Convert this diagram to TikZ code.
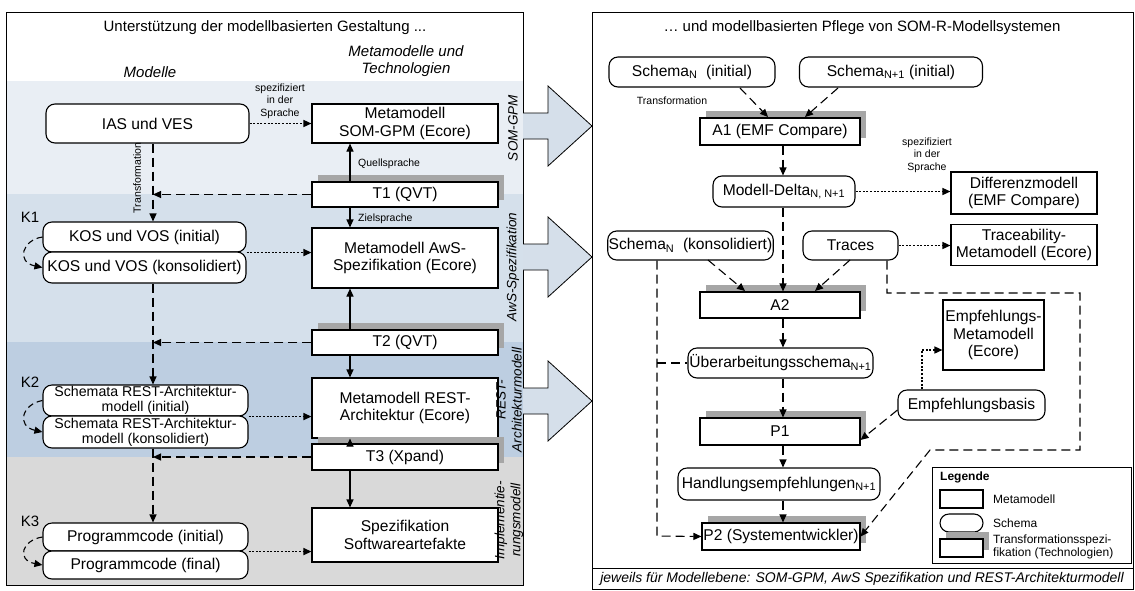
\documentclass[tikz,border=0pt]{standalone}
\usepackage{fontspec}
\setmainfont{Liberation Sans}
\usetikzlibrary{arrows.meta}
\definecolor{bandA}{HTML}{E9EEF4}
\definecolor{bandB}{HTML}{D5E0EB}
\definecolor{bandC}{HTML}{BDCEE1}
\definecolor{bandD}{HTML}{D9D9D9}
\definecolor{arrfill}{HTML}{D5DFEA}
\definecolor{shadowgray}{HTML}{A6A6A6}
\newcommand{\fsbig}{\fontsize{15.6}{17.5}\selectfont}
\newcommand{\fstitle}{\fontsize{15}{17}\selectfont}
\newcommand{\fsmid}{\fontsize{14.2}{15.2}\selectfont}
\newcommand{\fssmall}{\fontsize{10.5}{12.5}\selectfont}
\newcommand{\fsleg}{\fontsize{12}{13.5}\selectfont}
\newcommand{\fsband}{\fontsize{13.5}{16}\selectfont\itshape}
\begin{document}
\begin{tikzpicture}[x=1pt,y=-1pt,
  meta/.style={draw, line width=1.1pt, fill=white, align=center, inner sep=1pt, font=\fsbig},
  schema/.style={meta, rounded corners=9pt},
  trans/.style={meta, preaction={fill=shadowgray, transform canvas={xshift=6pt,yshift=7pt}}},
  dsh/.style={line width=1.1pt, dash pattern=on 9pt off 5pt},
  dtt/.style={line width=1.4pt, dash pattern=on 2pt off 1.6pt},
  sol/.style={line width=1.1pt},
  tip/.style={-{Triangle[length=8pt,width=7pt]}},
  lbl/.style={font=\fssmall, align=center, inner sep=0pt},
  hdr/.style={font=\fstitle\itshape, align=center, inner sep=0pt},
  band/.style={font=\fsband, align=center, inner sep=0pt, rotate=90},
  bigarrow/.style={draw, line width=0.8pt, fill=arrfill}
]
\useasboundingbox (0,0) rectangle (1135,590);
\fill[white] (0,0) rectangle (1135,590);

% ---------- left panel ----------
\fill[bandA] (6,81) rectangle (523,194);
\fill[bandB] (6,194) rectangle (523,342);
\fill[bandC] (6,342) rectangle (523,457);
\fill[bandD] (6,457) rectangle (523,585);
\draw[line width=1pt] (6,12) rectangle (523,585);

\node[font=\fstitle] (ltitle) at (265,28) {Unterstützung der modellbasierten Gestaltung ...};
\node[hdr] (hmod) at (150,72) {Modelle};
\node[hdr] (hmeta) at (406,61) {Metamodelle und\\Technologien};

% nodes
\node[schema, minimum width=203, minimum height=39] (ias) at (147.5,123.5) {IAS und VES};
\node[meta, minimum width=186, minimum height=39] (msom) at (405,123.5) {Metamodell\\SOM-GPM (Ecore)};
\node[trans, minimum width=186, minimum height=25] (t1) at (405,194.5) {T1 (QVT)};

\node[schema, minimum width=203, minimum height=30] (kosi) at (144.5,237) {KOS und VOS (initial)};
\node[schema, minimum width=203, minimum height=31] (kosk) at (144.5,267.5) {KOS und VOS (konsolidiert)};
\node[meta, minimum width=186, minimum height=60] (maws) at (405,258) {Metamodell AwS-\\Spezifikation (Ecore)};
\node[trans, minimum width=186, minimum height=25] (t2) at (405,342.5) {T2 (QVT)};

\node[schema, font=\fsmid, minimum width=205, minimum height=31] (schi) at (145.5,400.5) {Schemata REST-Architektur-\\modell (initial)};
\node[schema, font=\fsmid, minimum width=205, minimum height=32] (schk) at (145.5,432) {Schemata REST-Architektur-\\modell (konsolidiert)};
\node[meta, minimum width=186, minimum height=60] (mrest) at (405,408) {Metamodell REST-\\Architektur (Ecore)};
\node[trans, minimum width=186, minimum height=26] (t3) at (405,457) {T3 (Xpand)};

\node[schema, minimum width=205, minimum height=28] (progi) at (145.5,537) {Programmcode (initial)};
\node[schema, minimum width=205, minimum height=28] (progf) at (145.5,565) {Programmcode (final)};
\node[meta, minimum width=186, minimum height=54] (spez) at (405,535) {Spezifikation\\Softwareartefakte};

% band labels
\node[band] (bl1) at (513,128) {SOM-GPM};
\node[band] (bl2) at (513,267) {AwS-Spezifikation};
\node[band] (bl3) at (509,400) {REST-\\Architekturmodell};
\node[band] (bl4) at (509,520) {Implementie-\\rungsmodell};

% labels
\node[lbl] (lspez) at (280,101) {spezifiziert\\in der\\Sprache};
\node[lbl, anchor=west] (lquell) at (358,164) {Quellsprache};
\node[lbl, anchor=west] (lziel) at (358,219) {Zielsprache};
\node[lbl, rotate=90] (ltrans) at (137,178) {Transformation};
\node[font=\fstitle, inner sep=0pt] (k1) at (30,217) {K1};
\node[font=\fstitle, inner sep=0pt] (k2) at (30,382) {K2};
\node[font=\fstitle, inner sep=0pt] (k3) at (30,521) {K3};

% connectors left
\draw[dtt, tip] (ias.east) -- (msom.west);
\draw[sol, tip] (t1.north -| 350,0) -- (msom.south -| 350,0);
\draw[sol, tip] (t1.south -| 350,0) -- (maws.north -| 350,0);
\draw[sol, tip] (t2.north -| 350,0) -- (maws.south -| 350,0);
\draw[sol, tip] (t2.south -| 350,0) -- (mrest.north -| 350,0);
\draw[sol, tip] (t3.north -| 350,0) -- (mrest.south -| 350,0);
\draw[sol, tip] (t3.south -| 350,0) -- (spez.north -| 350,0);

\draw[dsh, tip] (ias.south -| 153,0) -- (kosi.north -| 153,0);
\draw[dsh, tip] (kosk.south -| 153,0) -- (schi.north -| 153,0);
\draw[dsh, tip] (schk.south -| 153,0) -- (progi.north -| 153,0);
\draw[dsh, tip] (t1.west) -- (t1.west -| 153,0);
\draw[dsh, tip] (t2.west) -- (t2.west -| 153,0);
\draw[dsh, tip] (t3.west) -- (t3.west -| 153,0);

\draw[dtt, tip] (kosi.south east) -- (kosi.south east -| maws.west);
\draw[dtt, tip] (schi.south east) -- (schi.south east -| mrest.west);
\draw[dtt, tip] (progi.south east) -- (progi.south east -| spez.west);

\draw[dsh, dash pattern=on 6pt off 4pt, tip] (kosi.west) .. controls (22,240) and (16,262) .. (kosk.west);
\draw[dsh, dash pattern=on 6pt off 4pt, tip] (schi.west) .. controls (22,404) and (16,426) .. (schk.west);
\draw[dsh, dash pattern=on 6pt off 4pt, tip] (progi.west) .. controls (22,540) and (16,560) .. (progf.west);

% big arrows
\draw[bigarrow] (523,113) -- (548,113) -- (548,86) -- (592,126) -- (548,166) -- (548,139) -- (523,139);
\draw[bigarrow] (523,244) -- (548,244) -- (548,217) -- (592,257) -- (548,297) -- (548,270) -- (523,270);
\draw[bigarrow] (523,388) -- (548,388) -- (548,361) -- (592,401) -- (548,441) -- (548,414) -- (523,414);

% ---------- right panel ----------
\draw[line width=1pt] (592,12) rectangle (1133,589);
\draw[line width=1pt] (592,568) -- (1133,568);
\node[font=\fstitle] (rtitle) at (862,28) {… und modellbasierten Pflege von SOM-R-Modellsystemen};
\node[font=\fontsize{14}{15.5}\selectfont\itshape, inner sep=0pt] (rfoot) at (862,579) {jeweils für Modellebene: SOM-GPM, AwS Spezifikation und REST-Architekturmodell};

\node[schema, minimum width=166, minimum height=30] (sni) at (692,72) {Schema\textsubscript{N}\ \ (initial)};
\node[schema, minimum width=183, minimum height=30] (sn1i) at (891,72) {Schema\textsubscript{N+1} (initial)};
\node[trans, minimum width=160, minimum height=27] (a1) at (780,131.5) {A1 (EMF Compare)};
\node[schema, minimum width=142, minimum height=31] (delta) at (784,191.5) {Modell-Delta\textsubscript{N, N+1}};
\node[meta, minimum width=146, minimum height=42] (diff) at (1024,193) {Differenzmodell\\(EMF Compare)};
\node[schema, minimum width=165, minimum height=29] (snk) at (690.5,245.5) {Schema\textsubscript{N}\ \ (konsolidiert)};
\node[schema, minimum width=95, minimum height=29] (traces) at (850.5,245.5) {Traces};
\node[meta, minimum width=146, minimum height=41] (trmeta) at (1024,245) {Traceability-\\Metamodell (Ecore)};
\node[trans, minimum width=160, minimum height=26] (a2) at (780,305) {A2};
\node[schema, minimum width=185, minimum height=30] (ueb) at (780.5,363) {Überarbeitungsschema\textsubscript{N+1}};
\node[meta, minimum width=101, minimum height=70] (empmeta) at (993.5,335) {Empfehlungs-\\Metamodell\\(Ecore)};
\node[schema, minimum width=147, minimum height=30] (empb) at (971.5,405) {Empfehlungsbasis};
\node[trans, minimum width=160, minimum height=27] (p1) at (780,431.5) {P1};
\node[schema, minimum width=202, minimum height=32] (handl) at (779,484) {Handlungsempfehlungen\textsubscript{N+1}};
\node[trans, minimum width=158, minimum height=27] (p2) at (781,536.5) {P2 (Systementwickler)};

\node[lbl] (lspez2) at (927,155) {spezifiziert\\in der\\Sprache};
\node[lbl] (ltrans2) at (672,101) {Transformation};

% connectors right
\draw[dsh, tip] (740,88) -- (768,117);
\draw[dsh, tip] (838,88) -- (805,117);
\draw[dsh, tip] (a1.south -| 783,0) -- (delta.north -| 783,0);
\draw[dtt, tip] (delta.east) -- (diff.west |- delta.east);
\draw[dtt, tip] (traces.east) -- (trmeta.west |- traces.east);
\draw[dsh, tip] (delta.south -| 783,0) -- (a2.north -| 783,0);
\draw[dsh, tip] (708,260) -- (745,291);
\draw[dsh, tip] (850,260) -- (815,291);
\draw[dsh, tip] (a2.south -| 783,0) -- (ueb.north -| 783,0);
\draw[dsh, tip] (ueb.south -| 783,0) -- (p1.north -| 783,0);
\draw[dsh, tip] (p1.south -| 783,0) -- (handl.north -| 783,0);
\draw[dsh, tip] (handl.south -| 783,0) -- (p2.north -| 783,0);
\draw[dsh, tip] (snk.south -| 657,0) -- (657,536) -- (p2.west);
\draw[dsh] (657,363) -- (ueb.west);
\draw[dsh, tip] (empb.west |- 0,410) -- (p1.east |- 0,440);
\draw[dtt, tip] (empb.north -| 922,0) -- (922,350) -- (empmeta.west |- 0,350);
\draw[dsh, tip] (traces.south -| 887,0) -- (887,293) -- (1080,293) -- (1080,450) -- (930,450) -- (p2.east);

% legend
\draw[line width=1pt, fill=white] (932,467) rectangle (1131,563);
\node[font=\fsleg\bfseries, anchor=west, inner sep=0pt] (legt) at (940,477) {Legende};
\node[meta, minimum width=43, minimum height=18] (legm) at (961.5,499) {};
\node[font=\fsleg, anchor=west, inner sep=0pt] (legmt) at (993,499) {Metamodell};
\node[schema, minimum width=43, minimum height=18] (legs) at (961.5,523) {};
\node[font=\fsleg, anchor=west, inner sep=0pt] (legst) at (993,523) {Schema};
\node[trans, minimum width=43, minimum height=18] (legtr) at (961.5,548) {};
\node[font=\fsleg, anchor=west, align=left, inner sep=0pt] (legtt) at (993,547) {Transformationsspezi-\\fikation (Technologien)};
\end{tikzpicture}
\end{document}
